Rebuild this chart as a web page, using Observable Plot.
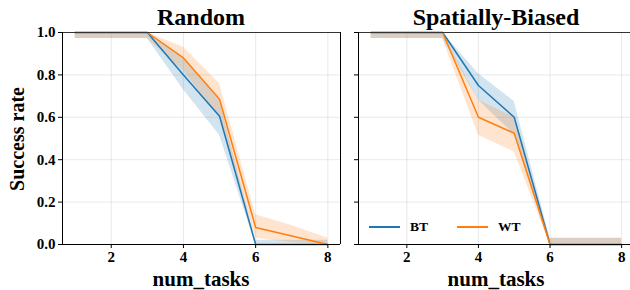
<!DOCTYPE html>
<html><head><meta charset="utf-8">
<script src="https://cdn.jsdelivr.net/npm/d3@7"></script>
<script src="https://cdn.jsdelivr.net/npm/@observablehq/plot@0.6"></script>
<style>
body{margin:0;background:#fff;}
#wrap{position:relative;width:630px;height:290px;overflow:hidden;font-family:"Liberation Serif",serif;}
#wrap svg{position:absolute;top:0;}
#wrap svg text{font-family:"Liberation Serif",serif !important;font-size:15px !important;font-weight:bold !important;}
.t{position:absolute;font-weight:bold;white-space:nowrap;color:#000;}
</style></head>
<body><div id="wrap"></div>
<script>
const tasks = [1,2,3,4,5,6,7,8];
const titles = ["Random","Spatially-Biased"];
const seriesNames = ["BT","WT"];
const colors = ["#1f77b4","#ff7f0e"];
const xTicks = [2,4,6,8];
const yTicks = [0,0.2,0.4,0.6,0.8,1.0];

const randBT   = [1,1,1,0.80,0.605,0,0,0];
const randBTlo = [0.972,0.972,0.972,0.73,0.515,0,0,0];
const randBThi = [1,1,1,0.88,0.68,0.02,0.02,0.02];
const randWT   = [1,1,1,0.88,0.685,0.08,0.04,0];
const randWTlo = [0.972,0.972,0.972,0.82,0.60,0.03,0.01,0];
const randWThi = [1,1,1,0.93,0.76,0.14,0.09,0.03];

const spBT   = [1,1,1,0.75,0.60,0,0,0];
const spBTlo = [0.972,0.972,0.972,0.68,0.52,0,0,0];
const spBThi = [1,1,1,0.805,0.675,0.03,0.03,0.03];
const spWT   = [1,1,1,0.60,0.525,0,0,0];
const spWTlo = [0.972,0.972,0.972,0.515,0.437,0,0,0];
const spWThi = [1,1,1,0.68,0.60,0.03,0.03,0.03];

function rows(mean, lo, hi, s){ return tasks.map((x,i)=>({x, y:mean[i], lo:lo[i], hi:hi[i], s})); }
const panels = [
  [rows(randBT,randBTlo,randBThi,"BT"), rows(randWT,randWTlo,randWThi,"WT")],
  [rows(spBT,spBTlo,spBThi,"BT"), rows(spWT,spWTlo,spWThi,"WT")]
];

const wrap = document.getElementById("wrap");
const X0 = 0.65, X1 = 8.35;
const cfg = [
  {left:0, width:345, ml:62, mr:5, domain:[X0,X1], labels:true, rightSpine:true},
  {left:345, width:285, ml:13, mr:0, domain:[X0, X0 + (630-358)/35.8], labels:false, rightSpine:false}
];

cfg.forEach((c,pi)=>{
  const data = panels[pi];
  const marks = [
    Plot.gridX(xTicks,{stroke:"#b0b0b0",strokeOpacity:0.35,strokeWidth:0.8}),
    Plot.gridY(yTicks.slice(1,5),{stroke:"#b0b0b0",strokeOpacity:0.35,strokeWidth:0.8}),
  ];
  data.forEach((d,si)=>{
    marks.push(Plot.areaY(d,{x:"x",y1:"lo",y2:"hi",fill:colors[si],fillOpacity:0.2}));
  });
  data.forEach((d,si)=>{
    marks.push(Plot.lineY(d,{x:"x",y:"y",stroke:colors[si],strokeWidth:1.5}));
  });
  marks.push(Plot.ruleY([0],{stroke:"#000",strokeWidth:1}));
  marks.push(Plot.ruleY([1],{stroke:"#333",strokeWidth:1}));
  marks.push(Plot.ruleX([c.domain[0]],{stroke:"#000",strokeWidth:1}));
  if (c.rightSpine) marks.push(Plot.ruleX([c.domain[1]],{stroke:"#000",strokeWidth:1}));
  marks.push(Plot.axisX(xTicks,{tickSize:4,tickPadding:3,fontSize:15,fontWeight:"bold",label:null,stroke:"#000",fill:"#000"}));
  marks.push(Plot.axisY(yTicks,{tickSize:4,tickPadding:3,fontSize:15,fontWeight:"bold",label:null,
    tickFormat: c.labels ? (v=>v.toFixed(1)) : (()=>""),stroke:"#000",fill:"#000"}));
  const svg = Plot.plot({
    width:c.width, height:290,
    marginLeft:c.ml, marginRight:c.mr, marginTop:32, marginBottom:46,
    x:{domain:c.domain},
    y:{domain:[0,1]},
    style:{fontFamily:"Liberation Serif",fontSize:"15px",fontWeight:"bold",background:"transparent",overflow:"visible"},
    marks
  });
  svg.style.left = c.left+"px";
  wrap.appendChild(svg);
});

function addText(txt, x, y, size, extra){
  const d = document.createElement("div");
  d.className="t"; d.textContent=txt;
  d.style.fontSize=size+"px";
  d.style.left=x+"px"; d.style.top=y+"px";
  d.style.transform = extra || "translate(-50%,-50%)";
  wrap.appendChild(d);
}
addText(titles[0], 201, 17, 24);
addText(titles[1], 496, 17, 24);
addText("num_tasks", 201, 279, 21);
addText("num_tasks", 496, 279, 21);
addText("Success rate", 17, 139, 20, "translate(-50%,-50%) rotate(-90deg)");

// legend
const leg = document.createElement("div");
leg.style.cssText="position:absolute;left:369px;top:219px;display:flex;align-items:center;font-weight:bold;font-size:13.5px;";
seriesNames.forEach((n,i)=>{
  const ln=document.createElement("span");
  ln.style.cssText=`display:inline-block;width:31px;height:0;border-top:2px solid ${colors[i]};margin-right:10px;`;
  const tx=document.createElement("span");
  tx.textContent=n; tx.style.marginRight= i==0 ? "29px":"0";
  leg.appendChild(ln); leg.appendChild(tx);
});
wrap.appendChild(leg);
</script></body></html>
